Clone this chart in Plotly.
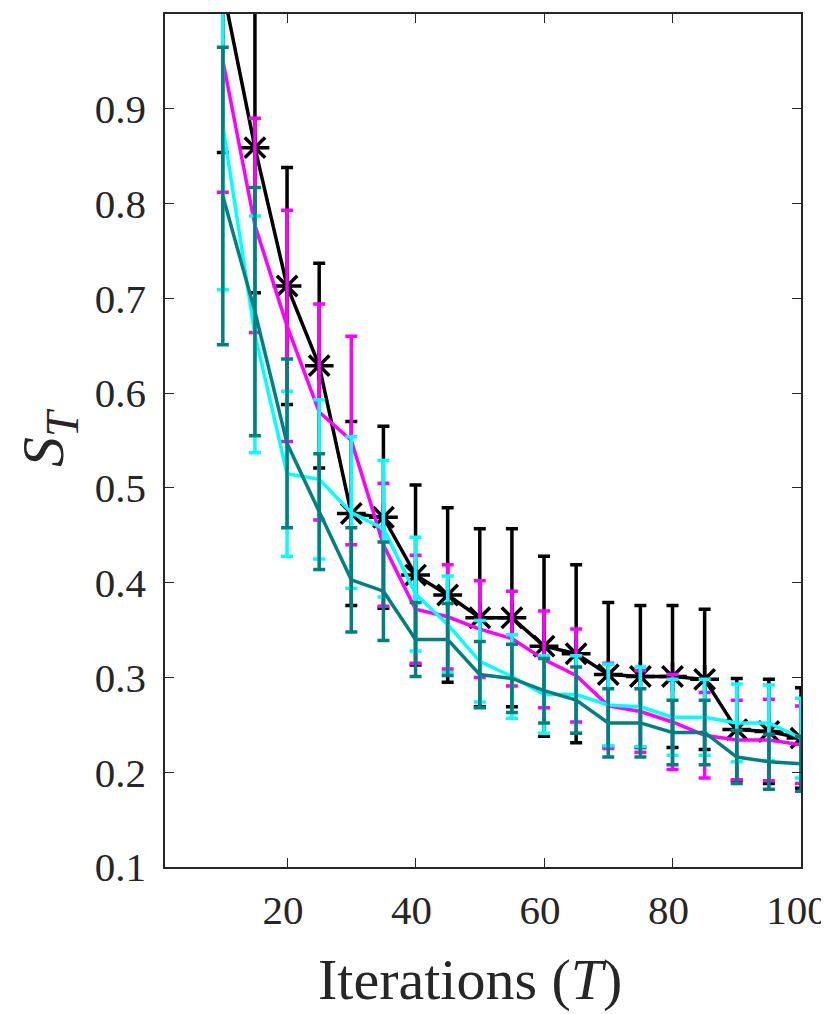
import plotly.graph_objects as go

# Iterations T on the x axis
iterations = [10, 15, 20, 25, 30, 35, 40, 45, 50, 55, 60, 65, 70, 75, 80, 85, 90, 95, 100]

# S_T means and error bar half-widths, one pair per curve
black_mean = [1.027, 0.859, 0.713, 0.629, 0.473, 0.469, 0.408, 0.387, 0.363, 0.363,
              0.333, 0.325, 0.303, 0.301, 0.301, 0.298, 0.245, 0.243, 0.236]
black_err = [0.173, 0.153, 0.125, 0.108, 0.097, 0.096, 0.095, 0.092, 0.094, 0.094,
             0.095, 0.094, 0.076, 0.075, 0.075, 0.074, 0.054, 0.055, 0.053]

magenta_mean = [0.951, 0.777, 0.671, 0.580, 0.550, 0.440, 0.372, 0.364, 0.351, 0.341,
                0.319, 0.302, 0.270, 0.264, 0.253, 0.239, 0.234, 0.234, 0.229]
magenta_err = [0.139, 0.113, 0.122, 0.114, 0.110, 0.065, 0.057, 0.055, 0.051, 0.050,
               0.051, 0.049, 0.045, 0.043, 0.050, 0.045, 0.042, 0.043, 0.041]

cyan_mean = [0.882, 0.662, 0.515, 0.509, 0.474, 0.457, 0.388, 0.356, 0.317, 0.301,
             0.282, 0.282, 0.271, 0.269, 0.258, 0.258, 0.252, 0.252, 0.236]
cyan_err = [0.173, 0.125, 0.087, 0.084, 0.080, 0.072, 0.060, 0.051, 0.043, 0.044,
            0.041, 0.041, 0.043, 0.042, 0.040, 0.040, 0.041, 0.040, 0.042]

teal_mean = [0.808, 0.686, 0.547, 0.475, 0.403, 0.391, 0.340, 0.340, 0.303, 0.299,
             0.286, 0.276, 0.252, 0.252, 0.242, 0.242, 0.216, 0.211, 0.209]
teal_err = [0.157, 0.131, 0.089, 0.061, 0.055, 0.052, 0.039, 0.038, 0.035, 0.036,
            0.034, 0.035, 0.036, 0.036, 0.034, 0.034, 0.028, 0.029, 0.029]

y_ticks = [0.1, 0.2, 0.3, 0.4, 0.5, 0.6, 0.7, 0.8, 0.9]
x_ticks = [20, 40, 60, 80, 100]

FONT = "Liberation Serif, Times New Roman, serif"
AXIS_COLOR = "#262626"

fig = go.Figure()

curves = [
    (black_mean, black_err, "#000000", "asterisk-open"),
    (magenta_mean, magenta_err, "#ff00ff", None),
    (cyan_mean, cyan_err, "#00ffff", None),
    (teal_mean, teal_err, "#008080", None),
]

for mean, err, color, symbol in curves:
    fig.add_trace(go.Scatter(
        x=iterations,
        y=mean,
        mode="lines+markers" if symbol else "lines",
        line=dict(color=color, width=3.5),
        marker=dict(symbol=symbol, size=24, line=dict(color=color, width=3.5)) if symbol else None,
        error_y=dict(type="data", array=err, visible=True, color=color, thickness=3.5, width=6),
        showlegend=False,
    ))

axis_common = dict(
    automargin=False,
    showline=True,
    linecolor=AXIS_COLOR,
    linewidth=1.5,
    mirror="allticks",
    ticks="inside",
    ticklen=9,
    tickwidth=1,
    tickcolor=AXIS_COLOR,
    showgrid=False,
    zeroline=False,
    ticklabeloverflow="allow",
    tickfont=dict(family=FONT, size=41, color=AXIS_COLOR),
)

fig.update_xaxes(
    range=[1, 100],
    tickvals=x_ticks,
    ticklabelstandoff=6,
    ticklabelshift=-4,
    **axis_common,
)
fig.update_yaxes(
    range=[0.1, 1.0],
    tickvals=y_ticks,
    ticktext=[f"{v:.1f}" for v in y_ticks],
    ticklabelstandoff=9,
    **axis_common,
)

# axis titles placed by hand (S with a big, low subscript T, as in the original)
fig.add_annotation(
    text="Iterations (<i>T</i>)",
    xref="paper", yref="paper",
    x=0.4796, y=0,
    xanchor="center", yanchor="middle",
    yshift=-112,
    showarrow=False,
    font=dict(family=FONT, size=58, color=AXIS_COLOR),
)
fig.add_annotation(
    text="<i>S</i>",
    xref="paper", yref="paper",
    x=0, y=0,
    xanchor="center", yanchor="middle",
    xshift=-122, yshift=415,
    textangle=-90,
    showarrow=False,
    font=dict(family=FONT, size=60, color=AXIS_COLOR),
)
fig.add_annotation(
    text="<i>T</i>",
    xref="paper", yref="paper",
    x=0, y=0,
    xanchor="center", yanchor="middle",
    xshift=-103, yshift=444,
    textangle=-90,
    showarrow=False,
    font=dict(family=FONT, size=46, color=AXIS_COLOR),
)

# page body adds 8 px, so the figure is drawn 8 px smaller
fig.update_layout(
    width=821,
    height=1006,
    margin=dict(l=157, r=28, t=6, b=147),
    plot_bgcolor="white",
    paper_bgcolor="white",
)

fig.write_html("out.html")
